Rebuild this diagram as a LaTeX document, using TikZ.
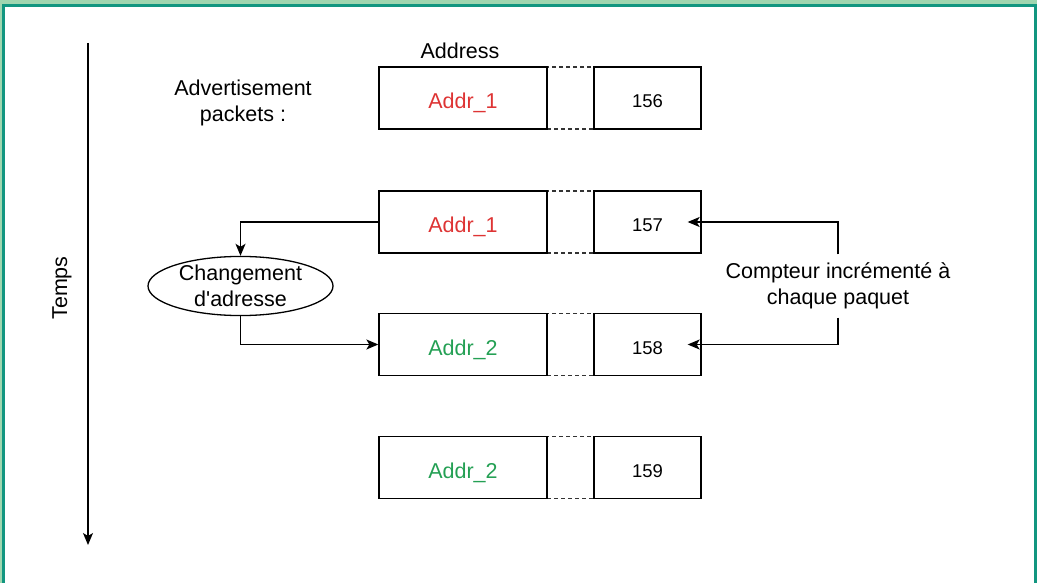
\documentclass[tikz,border=0pt]{standalone}
\usepackage{fontspec}
\setmainfont{Liberation Sans}
\usetikzlibrary{arrows.meta,shapes.geometric}
\definecolor{frameteal}{RGB}{18,150,128}
\definecolor{framelight}{RGB}{160,214,176}
\definecolor{addrred}{RGB}{222,52,52}
\definecolor{addrgreen}{RGB}{36,160,84}
\tikzset{
  lbl/.style={font=\fontsize{21.5}{26}\selectfont, align=center, inner sep=0pt},
  addrbox/.style={draw, line width=1.3pt, minimum width=168pt, inner sep=0pt, text height=42pt, text depth=20pt, font=\fontsize{21.5}{26}\selectfont},
  gapbox/.style={draw=black!80, line width=1.2pt, dash pattern=on 4pt off 3pt, minimum width=47pt, minimum height=62pt, inner sep=0pt},
  cntbox/.style={draw, line width=1.3pt, minimum width=107pt, inner sep=0pt, text height=41pt, text depth=21pt, font=\fontsize{18.5}{22}\selectfont},
  conn/.style={line width=1.3pt, -{Stealth[length=12pt,width=10pt,inset=3pt]}},
}
\begin{document}
\begin{tikzpicture}[x=1pt,y=-1pt]
\useasboundingbox (0,0) rectangle (1037,583);
\fill[white] (0,0) rectangle (1037,583);
% frame
\fill[framelight] (0,0) rectangle (1037,4);
\fill[frameteal] (0,4) rectangle (1037,7);
\fill[framelight] (0,4) rectangle (2,583);
\fill[frameteal] (2,4) rectangle (5,583);
\fill[frameteal] (1034,4) rectangle (1037,583);

% time axis
\coordinate (tTop) at (88,43);
\coordinate (tBot) at (88,545);
\draw[line width=1.3pt, -{Stealth[length=12pt,width=10pt,inset=3pt]}] (tTop) -- (tBot);
\node[lbl, rotate=90] (temps) at (62,288) {Temps};

\node[lbl] (address) at (460,51) {Address};
\node[lbl] (adv) at (243,103) {Advertisement\\packets :};

% rows
\foreach \nm/\yy/\col/\txt/\num in {a/98/addrred/Addr\_1/156, b/222/addrred/Addr\_1/157, c/344.5/addrgreen/Addr\_2/158, d/467.5/addrgreen/Addr\_2/159}{
  \node[gapbox] (\nm g) at (570.5,\yy) {};
  \node[addrbox, text=\col] (\nm l) at (463,\yy) {\txt};
  \node[cntbox] (\nm r) at (647.5,\yy) {\num};
}

% address change
\node[draw, ellipse, line width=1.3pt, minimum width=185pt, minimum height=54pt, inner sep=0pt, lbl] (chg) at (240.5,286) {Changement\\d\textquotesingle adresse};
\draw[conn] (bl.west) -| (chg.north);
\draw[conn] (chg.south) |- (cl.west);

% counter
\node[lbl, minimum height=63pt] (cpt) at (838,286) {Compteur incrémenté à\\chaque paquet};
\coordinate (bTip) at ([xshift=-14pt]br.east);
\coordinate (cTip) at ([xshift=-14pt]cr.east);
\draw[conn] (cpt.north) |- (bTip);
\draw[conn] (cpt.south) |- (cTip);
\end{tikzpicture}
\end{document}
